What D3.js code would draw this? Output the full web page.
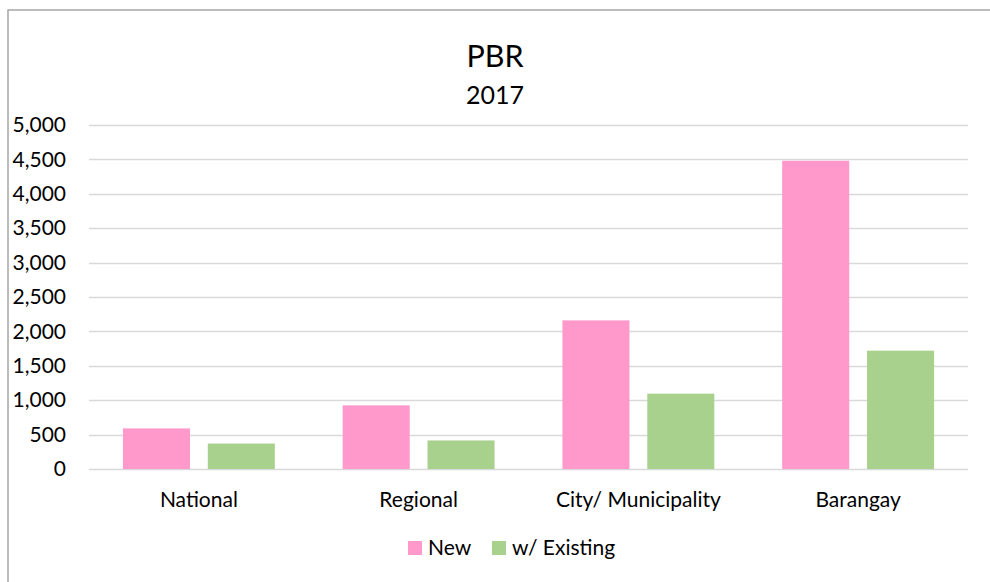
<!DOCTYPE html>
<html>
<head>
<meta charset="utf-8">
<script src="https://cdn.jsdelivr.net/npm/d3@7"></script>
<style>
  html, body { margin: 0; padding: 0; background: #fff; }
  svg { display: block; font-family: Lato, "Noto Sans", sans-serif; }
</style>
</head>
<body>
<svg id="chart"></svg>
<script>
// chart data
const categories = ['National', 'Regional', 'City/ Municipality', 'Barangay'];
const seriesNames = ['New', 'w/ Existing'];
const newValues = [590, 925, 2160, 4480];
const existingValues = [370, 415, 1095, 1720];
const yTicks = [0, 500, 1000, 1500, 2000, 2500, 3000, 3500, 4000, 4500, 5000];
const colors = ['#FF99CC', '#A9D18E'];

const width = 990;
const height = 582;
const plot = { left: 89, right: 968, top: 125, bottom: 469 };

const svg = d3.select('#chart')
  .attr('width', width)
  .attr('height', height);

// chart area border
svg.append('rect')
  .attr('x', 8)
  .attr('y', 10)
  .attr('width', width + 20)
  .attr('height', height + 20)
  .attr('fill', '#fff')
  .attr('stroke', '#A6A6A6')
  .attr('stroke-width', 1.5);

const x = d3.scaleBand()
  .domain(categories)
  .range([plot.left, plot.right]);

const xSub = d3.scaleBand()
  .domain(seriesNames)
  .range([0, x.bandwidth()])
  .paddingInner(0.21)
  .paddingOuter(0.4);

const y = d3.scaleLinear()
  .domain([0, 5000])
  .range([plot.bottom, plot.top]);

/* GRID */
svg.append('g')
  .attr('class', 'grid')
  .selectAll('line')
  .data(yTicks)
  .enter()
  .append('line')
  .attr('x1', plot.left)
  .attr('x2', plot.right)
  .attr('y1', d => Math.round(y(d)) + 0.5)
  .attr('y2', d => Math.round(y(d)) + 0.5)
  .attr('stroke', '#D9D9D9')
  .attr('stroke-width', 1.3);

/* Y AXIS LABELS */
const yAxis = d3.axisLeft(y)
  .tickValues(yTicks)
  .tickFormat(d3.format(','))
  .tickSize(0)
  .tickPadding(0);

svg.append('g')
  .attr('transform', 'translate(66,0)')
  .call(yAxis)
  .call(g => g.select('.domain').remove())
  .selectAll('text')
  .attr('font-family', 'Lato, "Noto Sans", sans-serif')
  .attr('font-size', 21)
  .attr('fill', '#000');

/* X AXIS LABELS */
const xAxis = d3.axisBottom(x)
  .tickSize(0)
  .tickPadding(0);

svg.append('g')
  .attr('transform', `translate(0,${plot.bottom})`)
  .call(xAxis)
  .call(g => g.select('.domain').remove())
  .selectAll('text')
  .attr('font-family', 'Lato, "Noto Sans", sans-serif')
  .attr('font-size', 21)
  .attr('fill', '#000')
  .attr('dy', 0)
  .attr('y', 38);

/* BARS */
const rows = categories.map((c, i) => ({
  category : c,
  values   : [newValues[i], existingValues[i]]
}));

const group = svg.append('g')
  .selectAll('g')
  .data(rows)
  .enter()
  .append('g')
  .attr('transform', d => `translate(${x(d.category)},0)`);

group.selectAll('rect')
  .data(d => d.values.map((v, i) => ({ series: seriesNames[i], value: v, index: i })))
  .enter()
  .append('rect')
  .attr('x', d => xSub(d.series))
  .attr('width', xSub.bandwidth())
  .attr('y', d => y(d.value))
  .attr('height', d => y(0) - y(d.value))
  .attr('fill', d => colors[d.index]);

/* TITLE */
svg.append('text')
  .attr('x', 495)
  .attr('y', 67)
  .attr('text-anchor', 'middle')
  .attr('font-size', 30.5)
  .attr('fill', '#000')
  .text('PBR');

svg.append('text')
  .attr('x', 495)
  .attr('y', 104)
  .attr('text-anchor', 'middle')
  .attr('font-size', 25)
  .attr('fill', '#000')
  .text('2017');

/* LEGEND */
const legendX = [408, 492];
const legend = svg.append('g')
  .selectAll('g')
  .data(seriesNames)
  .enter()
  .append('g')
  .attr('transform', (d, i) => `translate(${legendX[i]},541)`);

legend.append('rect')
  .attr('width', 14)
  .attr('height', 14)
  .attr('fill', (d, i) => colors[i]);

legend.append('text')
  .attr('x', 20)
  .attr('y', 14)
  .attr('font-size', 21)
  .attr('fill', '#000')
  .text(d => d);
</script>
</body>
</html>
